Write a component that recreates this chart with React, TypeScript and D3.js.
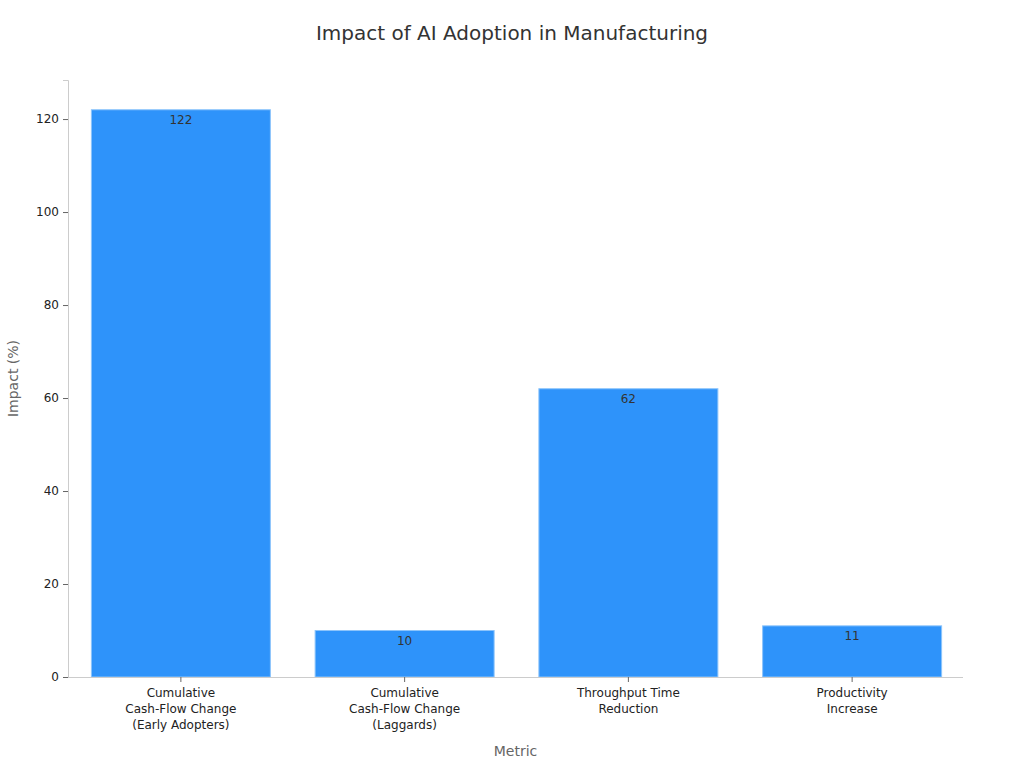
import React, { useEffect, useRef } from 'react';
import * as d3 from 'd3';

const categories = [
  ['Cumulative', 'Cash-Flow Change', '(Early Adopters)'],
  ['Cumulative', 'Cash-Flow Change', '(Laggards)'],
  ['Throughput Time', 'Reduction'],
  ['Productivity', 'Increase'],
];
const values = [122, 10, 62, 11];
const yTicks = [0, 20, 40, 60, 80, 100, 120];

const width = 1024;
const height = 768;
const margin = { top: 80, right: 61, bottom: 91, left: 68 };

const App: React.FC = () => {
  const svgRef = useRef<SVGSVGElement>(null);

  useEffect(() => {
    if (!svgRef.current) return;
    const svg = d3.select(svgRef.current);
    svg.selectAll('*').remove();

    const font = 'DejaVu Sans, sans-serif';
    const keys = categories.map((_, i) => String(i));

    const x = d3
      .scaleBand()
      .domain(keys)
      .range([margin.left + 1, width - margin.right + 1])
      .paddingInner(0.2)
      .paddingOuter(0.1);

    const y = d3
      .scaleLinear()
      .domain([0, 128.4])
      .range([height - margin.bottom, margin.top]);

    // Title
    svg
      .append('text')
      .attr('x', width / 2)
      .attr('y', 40)
      .attr('text-anchor', 'middle')
      .style('font-family', font)
      .style('font-size', '20px')
      .style('fill', '#333')
      .text('Impact of AI Adoption in Manufacturing');

    // Bars
    svg
      .append('g')
      .selectAll('rect')
      .data(values)
      .enter()
      .append('rect')
      .attr('x', (_, i) => x(keys[i])!)
      .attr('y', (d) => y(d))
      .attr('width', x.bandwidth())
      .attr('height', (d) => y(0) - y(d))
      .style('fill', '#2e93fa')
      .style('stroke', '#8cc4fb')
      .style('stroke-width', 1);

    // Value labels
    svg
      .append('g')
      .selectAll('text')
      .data(values)
      .enter()
      .append('text')
      .attr('x', (_, i) => x(keys[i])! + x.bandwidth() / 2)
      .attr('y', (d) => y(d) + 14)
      .attr('text-anchor', 'middle')
      .style('font-family', font)
      .style('font-size', '12px')
      .style('fill', '#333')
      .text((d) => String(d));

    // Y axis
    const yAxis = svg
      .append('g')
      .attr('transform', `translate(${margin.left},0)`)
      .call(d3.axisLeft(y).tickValues(yTicks).tickSize(5).tickPadding(4));
    yAxis.select('.domain').style('stroke', '#ccc');
    yAxis.selectAll('.tick line').style('stroke', '#666');
    yAxis
      .selectAll('.tick text')
      .style('font-family', font)
      .style('font-size', '12px')
      .style('fill', '#222');

    // X axis
    const xAxis = svg
      .append('g')
      .attr('transform', `translate(0,${height - margin.bottom})`)
      .call(d3.axisBottom(x).tickSize(5).tickSizeOuter(0).tickFormat(() => ''));
    xAxis.select('.domain').attr('d', `M${margin.left},0.5H${width - margin.right}`).style('stroke', '#ccc');
    xAxis.selectAll('.tick line').style('stroke', '#666');

    xAxis.selectAll('.tick').each(function (_, i) {
      const t = d3
        .select(this)
        .append('text')
        .attr('text-anchor', 'middle')
        .style('font-family', font)
        .style('font-size', '12px')
        .style('fill', '#222');
      categories[i].forEach((line, j) => {
        t.append('tspan')
          .attr('x', 0)
          .attr('y', 20 + j * 16)
          .text(line);
      });
    });

    // Axis titles
    svg
      .append('text')
      .attr('transform', `translate(18,${(margin.top + height - margin.bottom) / 2}) rotate(-90)`)
      .attr('text-anchor', 'middle')
      .style('font-family', font)
      .style('font-size', '14px')
      .style('fill', '#666')
      .text('Impact (%)');

    svg
      .append('text')
      .attr('x', (margin.left + width - margin.right) / 2)
      .attr('y', 756)
      .attr('text-anchor', 'middle')
      .style('font-family', font)
      .style('font-size', '14px')
      .style('fill', '#666')
      .text('Metric');
  }, []);

  return (
    <svg
      ref={svgRef}
      width={width}
      height={height}
      style={{ position: 'absolute', left: 0, top: 0, background: '#fff' }}
    />
  );
};

export default App;
